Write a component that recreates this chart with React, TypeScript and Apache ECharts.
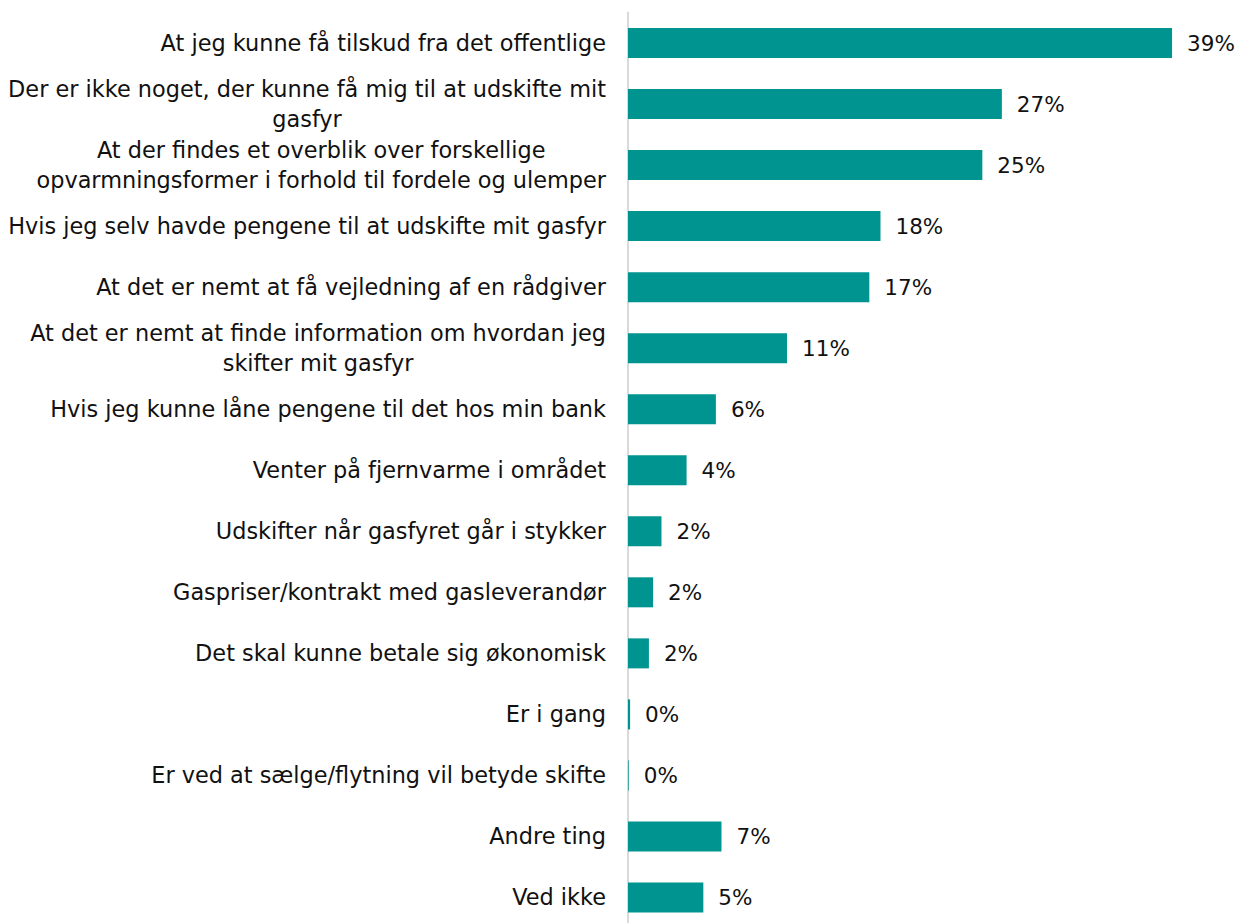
import React, { useEffect, useRef } from "react";
import * as echarts from "echarts";

const categories = [
  "At jeg kunne få tilskud fra det offentlige",
  "Der er ikke noget, der kunne få mig til at udskifte mit\ngasfyr",
  "At der findes et overblik over forskellige\nopvarmningsformer i forhold til fordele og ulemper",
  "Hvis jeg selv havde pengene til at udskifte mit gasfyr",
  "At det er nemt at få vejledning af en rådgiver",
  "At det er nemt at finde information om hvordan jeg\nskifter mit gasfyr",
  "Hvis jeg kunne låne pengene til det hos min bank",
  "Venter på fjernvarme i området",
  "Udskifter når gasfyret går i stykker",
  "Gaspriser/kontrakt med gasleverandør",
  "Det skal kunne betale sig økonomisk",
  "Er i gang",
  "Er ved at sælge/flytning vil betyde skifte",
  "Andre ting",
  "Ved ikke",
];

const values = [39, 26.8, 25.4, 18.1, 17.3, 11.4, 6.3, 4.2, 2.4, 1.8, 1.5, 0.15, 0.05, 6.7, 5.4];

const FONT = "DejaVu Sans";
const FS = 22.4;

export default function App() {
  const ref = useRef<HTMLDivElement>(null);
  useEffect(() => {
    if (!ref.current) return;
    const chart = echarts.init(ref.current, undefined, { renderer: "svg" });
    chart.setOption({
      animation: false,
      grid: { left: 628, right: 49, top: 12.5, height: 915.5, containLabel: false },
      xAxis: {
        type: "value",
        min: 0,
        max: 40,
        show: false,
      },
      yAxis: {
        type: "category",
        data: categories,
        inverse: true,
        axisLine: { show: true, lineStyle: { color: "#d9d9d9", width: 2 } },
        axisTick: { show: false },
        axisLabel: {
          margin: 22,
          color: "#111",
          fontFamily: FONT,
          fontSize: FS,
          formatter: (v: string) =>
            v
              .split("\n")
              .map((l) => "{c|" + l + "}")
              .join("\n"),
          rich: {
            c: {
              align: "center",
              fontFamily: FONT,
              fontSize: FS,
              color: "#111",
              lineHeight: 30,
            },
          },
        },
      },
      series: [
        {
          type: "bar",
          data: values,
          barWidth: 30,
          itemStyle: { color: "#009490" },
          label: {
            show: true,
            position: "right",
            distance: 15,
            color: "#111",
            fontFamily: FONT,
            fontSize: 21.5,
            formatter: (p: any) => Math.round(p.value) + "%",
          },
        },
      ],
    });
    return () => chart.dispose();
  }, []);
  return (
    <div style={{ position: "absolute", left: 0, top: 0, width: 1235, height: 923, overflow: "hidden" }}>
      <div ref={ref} style={{ width: 1235, height: 930 }} />
    </div>
  );
}
